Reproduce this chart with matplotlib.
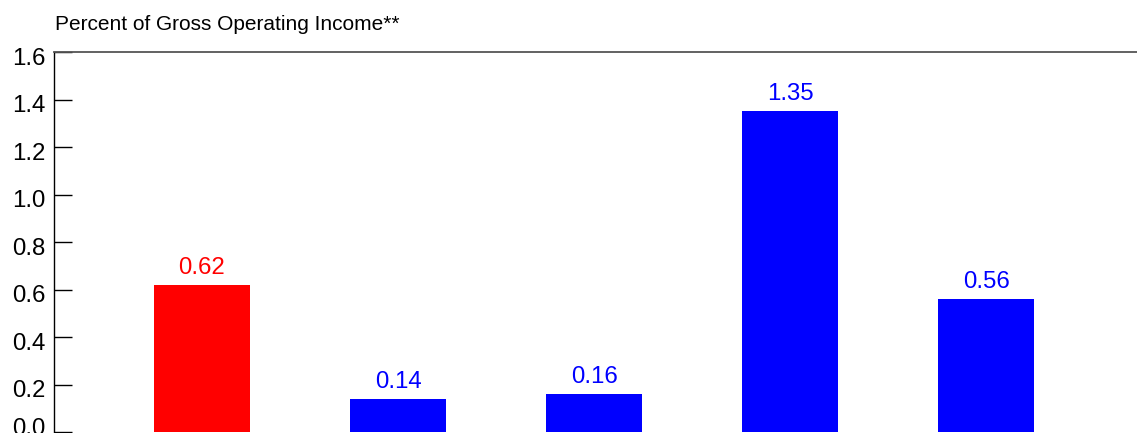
import matplotlib
matplotlib.use("Agg")
import matplotlib.pyplot as plt
from matplotlib.transforms import ScaledTranslation

values = [0.62, 0.14, 0.16, 1.35, 0.56]
labels = ["0.62", "0.14", "0.16", "1.35", "0.56"]
colors = ["#FF0000", "#0000FF", "#0000FF", "#0000FF", "#0000FF"]
yticks = [0.0, 0.2, 0.4, 0.6, 0.8, 1.0, 1.2, 1.4, 1.6]
title = "Percent of Gross Operating Income**"

plt.rcParams['font.family'] = ['Liberation Sans', 'DejaVu Sans']

fig = plt.figure(figsize=(11.37, 4.33), dpi=100)
ax = fig.add_axes([54/1137, 1/433, 1 - 54/1137, (432-52)/433])

x = list(range(len(values)))
ax.bar(x, values, width=0.49, color=colors, zorder=2)
for xi, v, lab, c in zip(x, values, labels, colors):
    ax.annotate(lab, (xi, v), xytext=(0, 8), textcoords="offset points",
                ha="center", va="baseline", color=c, fontsize=17.3)

ax.set_xlim(-0.755, 4.77)
ax.set_ylim(0, 1.6)
ax.set_yticks(yticks)
ax.set_yticklabels([f"{t:.1f}" for t in yticks], fontsize=17.3)
ax.tick_params(axis='y', direction='in', length=13, width=1, pad=6)
ax.set_xticks([])
ax.spines['right'].set_visible(False)
ax.spines['bottom'].set_visible(False)
ax.spines['top'].set_color('#555555')
ax.spines['top'].set_linewidth(1.3)
ax.spines['left'].set_linewidth(1.0)

# labels sit slightly below their ticks; the lowest one is nudged up a little
for i, lbl in enumerate(ax.get_yticklabels()):
    dy = -3 / 72 if i > 0 else 4 / 72
    lbl.set_transform(lbl.get_transform() + ScaledTranslation(0, dy, fig.dpi_scale_trans))

fig.text(55/1137, 1 - 24/433, title, fontsize=15, ha='left', va='center')

fig.savefig("out.png", dpi=100)
